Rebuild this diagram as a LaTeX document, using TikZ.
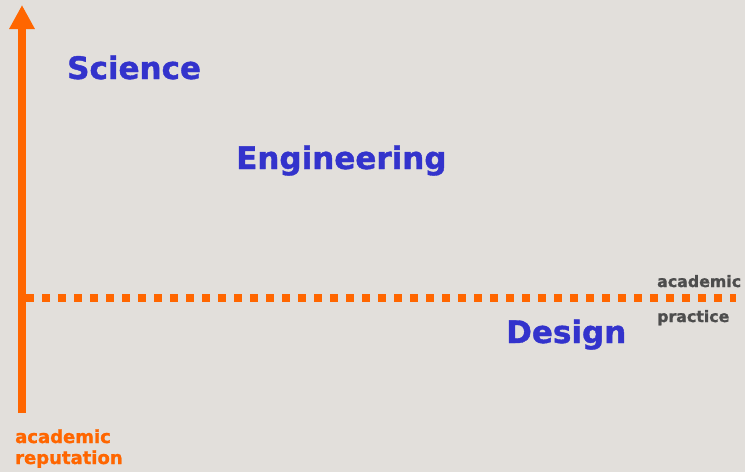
\documentclass[tikz,border=0pt]{standalone}
\usepackage{fontspec}
\setmainfont{DejaVu Sans}[BoldFeatures={FakeBold=1.2}]
\usetikzlibrary{arrows.meta}
\definecolor{bg}{HTML}{E2DFDB}
\definecolor{axisorange}{HTML}{FF6600}
\definecolor{fieldblue}{HTML}{3333CC}
\definecolor{labelgray}{HTML}{4D4D4D}
\tikzset{
  field/.style={anchor=base west, inner sep=0pt, text=fieldblue, font=\bfseries\fontsize{31}{31}\selectfont},
  smalllabel/.style={anchor=base west, inner sep=0pt, text=labelgray, font=\bfseries\fontsize{15.8}{15.8}\selectfont},
  axislabel/.style={anchor=base west, inner sep=0pt, text=axisorange, font=\bfseries\fontsize{18}{18}\selectfont},
}
\begin{document}
\begin{tikzpicture}[x=1pt,y=-1pt]
\fill[bg] (0,0) rectangle (745,472);
\useasboundingbox (0,0) rectangle (745,472);
\coordinate (ybot) at (22,413);
\coordinate (ytop) at (22,5);
\coordinate (hstart) at (26,297.5);
\coordinate (hend) at (736,297.5);
\draw[axisorange, line width=8pt, -{Triangle[length=24pt,width=24pt]}] (ybot) -- (ytop);
\draw[axisorange, line width=8pt, dash pattern=on 8pt off 8pt] (hstart) -- (hend);
\node[field] (sci) at (67,79) {Science};
\node[field] (eng) at (236,169) {Engineering};
\node[field] (des) at (506,343) {Design};
\node[smalllabel] (ac) at (657,287) {academic};
\node[smalllabel] (pr) at (657,322) {practice};
\node[axislabel] (ar1) at (15,443) {academic};
\node[axislabel] (ar2) at (15,464) {reputation};
\end{tikzpicture}
\end{document}
